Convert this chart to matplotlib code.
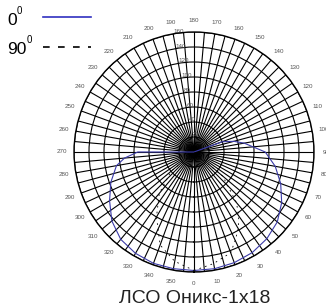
import numpy as np
import matplotlib.pyplot as plt

plt.rcParams['font.family'] = ['Liberation Sans', 'DejaVu Sans']

# C-plane 0 deg (solid blue)
ang0 = [0, 10, 20, 30, 40, 50, 60, 70, 80, 90, 100, 105, 110, 115,
        265, 270, 275, 280, 290, 300, 310, 320, 330, 340, 350, 360]
cd0 = [158, 158, 157, 155, 151, 145, 135, 123, 110, 95, 68, 55, 40, 0,
       0, 75, 93, 105, 118, 130, 143, 152, 156, 158, 158, 158]

# C-plane 90 deg (dashed)
ang90 = [0, 10, 20, 25, 30, 35, 40, 50, 60, 300, 310, 320, 330, 340, 350, 360]
cd90 = [158, 151, 143, 130, 118, 104, 88, 50, 0, 0, 40, 72, 100, 132, 148, 158]

theta_ticks = np.arange(0, 360, 5)
theta_labels = [str(t) if t % 10 == 0 else '' for t in theta_ticks]
r_ticks = [20, 40, 60, 80, 100, 120, 140, 160]
title = 'ЛСО Оникс-1x18'

fig = plt.figure(figsize=(3.26, 3.07), dpi=100)
ax = fig.add_axes([74 / 326, 35 / 307, 240 / 326, 240 / 307], projection='polar')
ax.set_theta_zero_location('S')
ax.set_theta_direction(1)
ax.set_rlim(0, 160)

ax.set_thetagrids(theta_ticks, theta_labels, fontsize=4.5, color='#555555')
ax.set_rgrids(r_ticks, [str(r) for r in r_ticks], angle=190, fontsize=4.5, color='#555555')
ax.tick_params(axis='x', pad=-2)
ax.grid(True, color='black', lw=0.8)
ax.spines['polar'].set_linewidth(1.0)

ax.plot(np.radians(ang0), cd0, color='#3a3aa8', lw=0.8)
ax.plot(np.radians(ang90), cd90, color='black', lw=0.6, ls=(0, (2, 5)))

# legend drawn by hand
fig.text(7 / 326, 1 - 25 / 307, '0', fontsize=12.5)
fig.text(17 / 326, 1 - 14 / 307, '0', fontsize=7)
fig.text(7 / 326, 1 - 54 / 307, '90', fontsize=12.5)
fig.text(27 / 326, 1 - 43 / 307, '0', fontsize=7)
fig.add_artist(plt.Line2D([43 / 326, 91 / 326], [1 - 17 / 307, 1 - 17 / 307],
                          color='#3030c0', lw=1.2))
fig.add_artist(plt.Line2D([43 / 326, 91 / 326], [1 - 47 / 307, 1 - 47 / 307],
                          color='black', lw=1.2, ls=(0, (4, 5))))

fig.text(195 / 326, 1 - 303 / 307, title, fontsize=14, ha='center', va='baseline',
         color='#222222')

fig.savefig('out.png', dpi=100)
